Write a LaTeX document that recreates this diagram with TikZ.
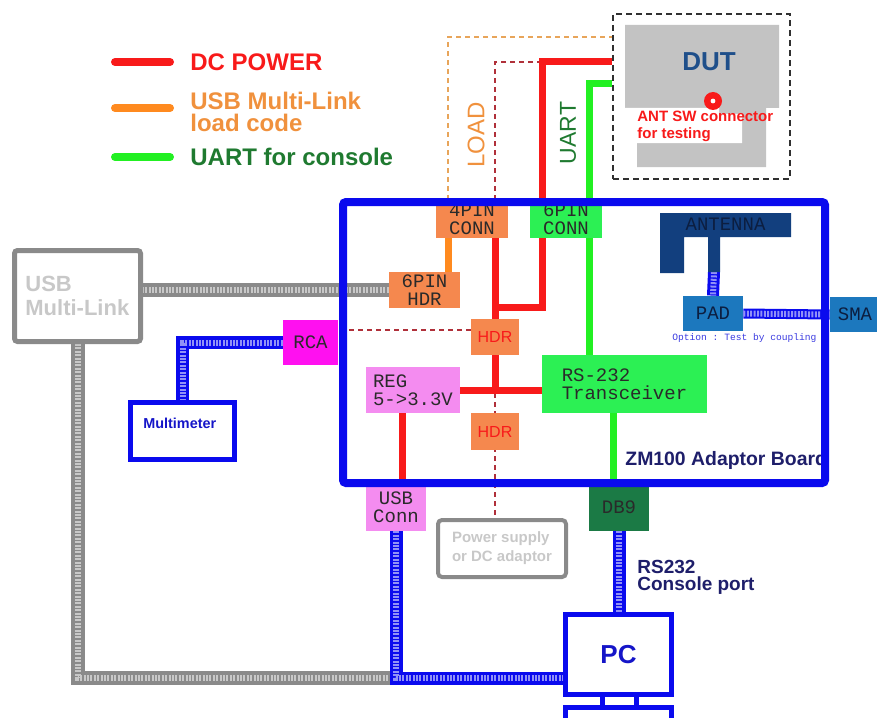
\documentclass[tikz,border=0pt]{standalone}
\usepackage{fontspec}
\setmainfont{Liberation Sans}
\setmonofont{Liberation Mono}
\usetikzlibrary{backgrounds,positioning}

\definecolor{pwrred}{HTML}{F81A1A}
\definecolor{dashred}{HTML}{B0303A}
\definecolor{loadorange}{HTML}{FF8A1F}
\definecolor{loadtext}{HTML}{F0913D}
\definecolor{dashorange}{HTML}{E8A55A}
\definecolor{uartgreen}{HTML}{22F022}
\definecolor{uarttext}{HTML}{1F7A30}
\definecolor{hdrorange}{HTML}{F5884E}
\definecolor{rsgreen}{HTML}{2CF054}
\definecolor{regpink}{HTML}{F48CF0}
\definecolor{rcamag}{HTML}{FF10F0}
\definecolor{db9green}{HTML}{1B7A45}
\definecolor{monotext}{HTML}{2A2A2A}
\definecolor{boardblue}{HTML}{0A0AEE}
\definecolor{navy}{HTML}{1E1E6A}
\definecolor{pcblue}{HTML}{1515C8}
\definecolor{dutgray}{HTML}{C3C3C3}
\definecolor{dutblue}{HTML}{1F4F8A}
\definecolor{dutdash}{HTML}{303030}
\definecolor{antblue}{HTML}{123F7E}
\definecolor{antdark}{HTML}{0C1E40}
\definecolor{padblue}{HTML}{1C78BE}
\definecolor{optblue}{HTML}{3A3AE0}
\definecolor{boxgray}{HTML}{8A8A8A}
\definecolor{paletext}{HTML}{C8C8C8}

\begin{document}
\begin{tikzpicture}[x=0.5pt,y=-0.5pt,
    every node/.style={inner sep=0pt},
    legend/.style={anchor=west,align=left,font=\bfseries\fontsize{12}{11}\selectfont},
    pcb/.style={minimum width=36pt,minimum height=19pt,align=center,text=monotext,
                font=\fontsize{9.5}{9}\selectfont\ttfamily},
    hdrbox/.style={fill=hdrorange,minimum width=24pt,minimum height=18pt,text=pwrred,
                font=\fontsize{8}{9}\selectfont},
    pwr/.style={draw=pwrred,line width=3.5pt},
    pwrdash/.style={draw=dashred,line width=0.7pt,dash pattern=on 2.5pt off 2pt},
    load/.style={draw=loadorange,line width=3.5pt},
    loaddash/.style={draw=dashorange,line width=0.7pt,dash pattern=on 2.5pt off 2pt},
    uart/.style={draw=uartgreen,line width=3.5pt},
    bluecable/.style={draw=boardblue,line width=6.5pt,
                postaction={draw=white!55!boardblue,line width=3pt,dash pattern=on 1pt off 0.7pt}},
    graycable/.style={draw=boxgray,line width=7pt,
                postaction={draw=paletext,line width=3pt,dash pattern=on 1pt off 0.7pt}},
    hw/.style={draw=boardblue,line width=2.5pt}]
\useasboundingbox (0,0) rectangle (877,717);
\clip (0,0) rectangle (877,717);

% legend
\node[legend,text=pwrred] (lgpwr) at (190,62) {DC POWER};
\node[legend,text=loadtext] (lgload) at (190,112) {USB Multi-Link\\load code};
\node[legend,text=uarttext] (lguart) at (190,157) {UART for console};
\draw[pwr,line width=4pt,line cap=round] ([xshift=-10pt]lgpwr.west) -- ++(-55,0);
\draw[load,line width=4pt,line cap=round] ([xshift=-10pt,yshift=2pt]lgload.west) -- ++(-55,0);
\draw[uart,line width=4pt,line cap=round] ([xshift=-10pt]lguart.west) -- ++(-55,0);

% device under test
\node[draw=dutdash,line width=0.9pt,dash pattern=on 3pt off 2pt,
      minimum width=88.5pt,minimum height=82.5pt] (dutbox) at (701.5,96.5) {};
\fill[dutgray] (625,25) rectangle (779,108) (637,108) rectangle (766,167);
\fill[white] (625,108) rectangle (719,143) (719,114) rectangle (742,143);
\node[text=dutblue,font=\bfseries\fontsize{13}{13}\selectfont] (dut) at (709,62) {DUT};
\fill[pwrred] (713,101) circle (4.5pt);
\fill[white] (713,101) circle (1.2pt);
\node[anchor=west,align=left,text=pwrred,font=\bfseries\fontsize{7.5}{8.5}\selectfont]
      (antsw) at (637,126) {ANT SW connector\\for testing};

\node[rotate=90,text=loadtext,font=\fontsize{12}{12}\selectfont] (lblload) at (476,135) {LOAD};
\node[rotate=90,text=uarttext,font=\fontsize{11.5}{12}\selectfont] (lbluart) at (568,133) {UART};

% adaptor board
\node[pcb,fill=hdrorange] (c4) at (472,219) {4PIN\\CONN};
\node[pcb,fill=rsgreen] (c6) at (566,219) {6PIN\\CONN};
\node[pcb,fill=hdrorange,minimum width=35.5pt,minimum height=18pt] (hdr6) at (424.5,290) {6PIN\\HDR};
\node[hdrbox] (hdra) at (495,337) {HDR};
\node[hdrbox,minimum height=18.5pt] (hdrb) at (495,431.5) {HDR};
\node[pcb,fill=regpink,minimum width=47pt,minimum height=23pt,align=left] (reg) at (413,390) {REG\\5->3.3V};
\node[pcb,fill=rsgreen,minimum width=82.5pt,minimum height=29pt,align=left] (rs) at (624.5,384) {RS-232\\Transceiver};
\node[pcb,fill=rcamag,minimum width=27.5pt,minimum height=22.5pt] (rca) at (310.5,342.5) {RCA};
\node[pcb,fill=regpink,minimum width=30pt,minimum height=23.5pt] (usbc) at (396,507.5) {USB\\Conn};
\node[pcb,fill=db9green,minimum width=30pt,minimum height=23.5pt] (db9) at (619,507.5) {DB9};

\fill[antblue] (660,213) -- (791,213) -- (791,237) -- (720,237) -- (720,272) -- (708,272)
      -- (708,237) -- (684,237) -- (684,273) -- (660,273) -- cycle;
\node[font=\fontsize{9.5}{9}\selectfont\ttfamily,text=antdark] (ant) at (725.5,224) {ANTENNA};
\coordinate (antstem) at (714,272);
\node[pcb,fill=padblue,minimum width=30pt,minimum height=17.5pt,text=antdark] (pad) at (713,313.5) {PAD};
\node[pcb,fill=padblue,minimum width=25pt,minimum height=17.5pt,text=antdark] (sma) at (855,314.5) {SMA};
\node[anchor=west,text=optblue,font=\fontsize{4.8}{5}\selectfont\ttfamily] (opt) at (672,338) {Option : Test by coupling};

\node[anchor=west,text=navy,font=\bfseries\fontsize{9.7}{9}\selectfont] (brdlbl) at (625,460) {ZM100 Adaptor Board};
\node[draw=boardblue,line width=4pt,rounded corners=1.5pt,
      minimum width=241pt,minimum height=140.5pt] (board) at (584,342.5) {};

% outside the board
\node[draw=boxgray,line width=2pt,rounded corners=2pt,minimum width=64pt,minimum height=28.5pt,
      align=left,text=paletext,font=\bfseries\fontsize{7.5}{9.5}\selectfont] (ps) at (502,548.5) {Power supply\\or DC adaptor};
\node[anchor=north west,align=left,text=navy,font=\bfseries\fontsize{9.5}{8.5}\selectfont] (con) at (637,560) {RS232\\Console port};
\node[hw,minimum width=53pt,minimum height=40pt,text=pcblue,
      font=\bfseries\fontsize{13}{13}\selectfont] (pc) at (618.5,654.5) {PC};
\node[hw,minimum width=53pt,minimum height=10.5pt] (kb) [below=4pt of pc] {};
\node[hw,minimum width=52pt,minimum height=28.5pt] (mm) at (182.5,431) {};
\node[anchor=west,text=pcblue,font=\bfseries\fontsize{7.2}{7}\selectfont] (mmlbl) at (143,423) {Multimeter};
\node[draw=boxgray,line width=2.5pt,rounded corners=1.5pt,minimum width=63pt,minimum height=45.5pt] (ml) at (77.5,296) {};
\node[anchor=west,align=left,text=paletext,font=\bfseries\fontsize{11}{12}\selectfont] (mllbl) at (25,296) {USB\\Multi-Link};

\draw[hw] ([xshift=-8.25pt]pc.south) -- ([xshift=-8.25pt]kb.north);
\draw[hw] ([xshift=8.75pt]pc.south) -- ([xshift=8.75pt]kb.north);

\begin{scope}[on background layer]
  \coordinate (pj) at (542,307);
  \coordinate (usbj) at (396,678);
  % power
  \draw[pwrdash] (pj |- dut) -| (ps.north -| hdra.south);
  \draw[pwrdash] ([yshift=3.5pt]hdra.west) -- ([yshift=3.5pt]hdra.west -| rca.east);
  \draw[pwr] (dutbox.west |- dut) -| (pj) -| (hdra.north);
  \draw[pwr] (c4.south -| hdra.north) -- (hdra.north);
  \draw[pwr] (hdra.south) -- (hdra.south |- reg.east);
  \draw[pwr] (reg.east) -- (reg.east -| rs.west);
  \draw[pwr] ([xshift=3pt]usbc.north) -- ([xshift=3pt]usbc.north |- reg.south);
  % load code
  \draw[loaddash] ([xshift=-12pt]c4.north) |- (dutbox.west |- 0,37);
  \draw[load] ([xshift=-12pt]c4.south) -- ([xshift=-12pt]c4.south |- hdr6.north);
  % uart
  \draw[uart] (dutbox.west |- 0,84) -| ([xshift=-17.75pt]rs.north);
  \draw[uart] ([xshift=-3pt]db9.north) -- ([xshift=-3pt]db9.north |- rs.south);
  % cables
  \draw[graycable] (hdr6.west) -- (hdr6.west -| ml.east);
  \draw[graycable] (ml.south) |- (usbj);
  \draw[bluecable] (usbc.south) -- (usbj) -- (usbj -| pc.west);
  \draw[bluecable] (db9.south) -- (db9.south |- pc.north);
  \draw[bluecable] (rca.west) -| (mm.north);
  \draw[bluecable,line width=6pt] (antstem) -- (pad.north);
  \draw[bluecable,line width=5pt] (pad.east) -- (sma.west);
\end{scope}

\end{tikzpicture}
\end{document}
